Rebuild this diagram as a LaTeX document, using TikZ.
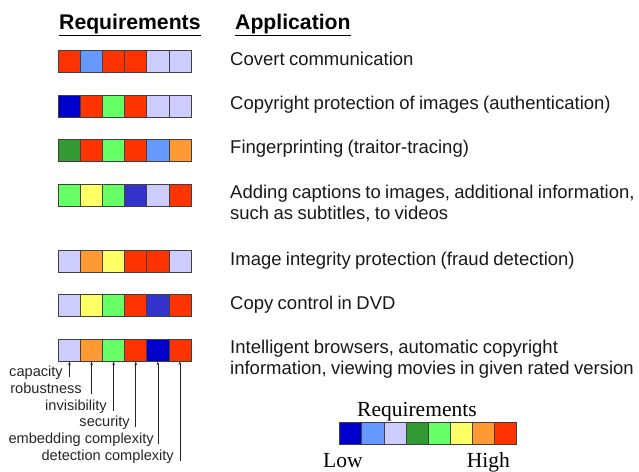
\documentclass[tikz,border=0pt]{standalone}
\usepackage{fontspec}
\setmainfont{Liberation Sans}
\newfontfamily\appfont[WordSpace=0.85]{Liberation Sans}
\newfontfamily\legfont{Liberation Serif}
\usetikzlibrary{arrows.meta}
\definecolor{cR}{HTML}{FF3300}
\definecolor{cLB}{HTML}{6699FF}
\definecolor{cLav}{HTML}{CCCCFF}
\definecolor{cDB}{HTML}{0000CC}
\definecolor{cMB}{HTML}{3333CC}
\definecolor{cG}{HTML}{66FF66}
\definecolor{cDG}{HTML}{339933}
\definecolor{cY}{HTML}{FFFF66}
\definecolor{cO}{HTML}{FF9933}
\begin{document}
\begin{tikzpicture}[x=1pt,y=-1pt,
  cell/.style={draw=black!75, line width=0.8pt, minimum width=22.1pt, minimum height=22pt, inner sep=0pt, anchor=north west},
  apptext/.style={anchor=base west, inner sep=0pt, font=\appfont\fontsize{18.5}{20.5}\selectfont, align=left, text=black!90},
  lab/.style={anchor=base east, inner sep=0pt, font=\fontsize{14.6}{16}\selectfont, text=black!85},
  head/.style={anchor=base west, inner sep=0pt, font=\fontsize{21.2}{24}\bfseries\selectfont},
  legtext/.style={anchor=base west, inner sep=0pt, font=\legfont\fontsize{21.5}{24}\selectfont},
  pointer/.style={-{Stealth[length=4pt,width=2.6pt]}, line width=0.6pt, draw=black!85}]
\useasboundingbox (0,0) rectangle (639,471);

% headings
\node[head] (hreq) at (59,29.5) {\underline{Requirements}};
\node[head] (happ) at (235,29.5) {\underline{Application}};

% requirement bars
\foreach \r/\y/\cols in {1/49.5/{cR,cLB,cR,cR,cLav,cLav},
                         2/95/{cDB,cR,cG,cR,cLav,cLav},
                         3/138.5/{cDG,cR,cG,cR,cLB,cO},
                         4/183.5/{cG,cY,cG,cMB,cLav,cR},
                         5/249.5/{cLav,cO,cY,cR,cR,cLav},
                         6/294/{cLav,cY,cG,cR,cMB,cR},
                         7/338.5/{cLav,cO,cG,cR,cDB,cR}}{
  \foreach \c [count=\i] in \cols {
    \node[cell, fill=\c] (b\r c\i) at ({58+(\i-1)*22.1},\y) {};
  }
}

% application texts
\node[apptext] (a1) at (230,65) {Covert communication};
\node[apptext] (a2) at (230,109) {Copyright protection of images (authentication)};
\node[apptext] (a3) at (230,153) {Fingerprinting (traitor-tracing)};
\node[apptext] (a4) at (230,219) {Adding captions to images, additional information,\\such as subtitles, to videos};
\node[apptext] (a5) at (230,265) {Image integrity protection (fraud detection)};
\node[apptext] (a6) at (230,309) {Copy control in DVD};
\node[apptext] (a7) at (230,374) {Intelligent browsers, automatic copyright\\information, viewing movies in given rated version};

% requirement labels
\node[lab] (l1) at (63,376.5) {capacity};
\node[lab] (l2) at (82,393.2) {robustness};
\node[lab] (l3) at (107,410) {invisibility};
\node[lab] (l4) at (130,426.7) {security};
\node[lab] (l5) at (154,443.3) {embedding complexity};
\node[lab] (l6) at (174,460) {detection complexity};

\foreach \i/\ye in {1/377,2/393.5,3/410.5,4/427,5/444,6/460.5}{
  \coordinate (e\i) at (b7c\i.south |- 0,\ye);
  \draw[pointer] (e\i) -- (b7c\i.south);
}

% legend
\node[legtext] (lreq) at (357,416.7) {Requirements};
\foreach \c [count=\i] in {cDB,cLB,cLav,cDG,cG,cY,cO,cR}{
  \node[cell, fill=\c] (g\i) at ({339.3+(\i-1)*22.1},421.7) {};
}
\node[legtext] (llow) at (323,467) {Low};
\node[legtext] (lhigh) at (466.7,467) {High};
\end{tikzpicture}
\end{document}
